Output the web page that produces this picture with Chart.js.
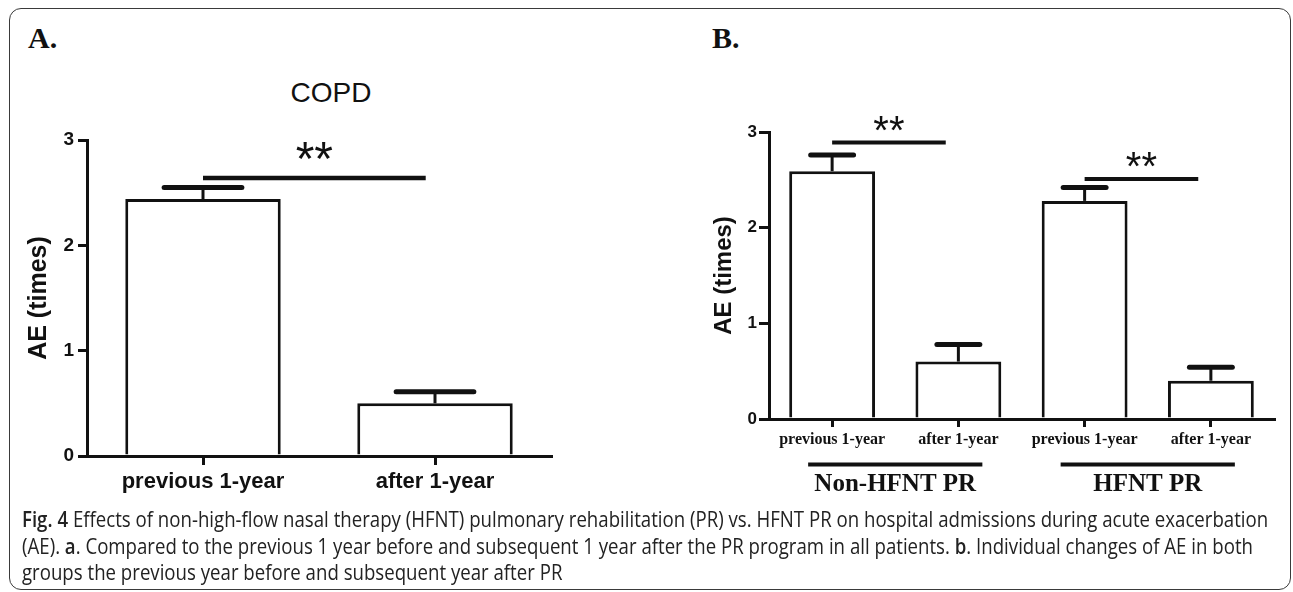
<!DOCTYPE html>
<html>
<head>
<meta charset="utf-8">
<script src="https://cdn.jsdelivr.net/npm/chart.js@4.4.1/dist/chart.umd.min.js"></script>
<style>
body { margin:0; background:#fff; width:1293px; height:592px; overflow:hidden; position:relative; font-family:"Liberation Sans", Arial, sans-serif; }
#frame { position:absolute; left:9px; top:8px; width:1282px; height:582px; box-sizing:border-box; border:1.5px solid #3a3a3a; border-radius:12px; }
.panel { position:absolute; top:0; height:505px; }
#pa { left:0; width:650px; }
#pb { left:650px; width:643px; }
.tag { position:absolute; top:23px; font:bold 30px "Liberation Serif", "Times New Roman", serif; line-height:1; color:#111; }
#copd { position:absolute; left:231px; width:200px; top:79px; text-align:center; font-size:28px; line-height:1; color:#111; }
#caption { position:absolute; left:22px; top:505px; font-family:"Open Sans", sans-serif; font-size:22px; line-height:26.5px; color:#222; }
#caption div { white-space:nowrap; transform-origin:0 0; width:max-content; }
#caption b { font-weight:600; }
</style>
</head>
<body>
<div id="frame"></div>
<div class="tag" style="left:28px">A.</div>
<div class="tag" style="left:712px">B.</div>
<div id="copd">COPD</div>
<div class="panel" id="pa"><canvas id="chartA"></canvas></div>
<div class="panel" id="pb"><canvas id="chartB"></canvas></div>
<div id="caption">
  <div><b>Fig. 4</b> Effects of non-high-flow nasal therapy (HFNT) pulmonary rehabilitation (PR) vs. HFNT PR on hospital admissions during acute exacerbation</div>
  <div>(AE). <b>a</b>. Compared to the previous 1 year before and subsequent 1 year after the PR program in all patients. <b>b</b>. Individual changes of AE in both</div>
  <div>groups the previous year before and subsequent year after PR</div>
</div>
<script>
// panel A: all patients
var catsA = ['previous 1-year', 'after 1-year'];
var aeA = [2.44, 0.50];
var semA = [0.11, 0.11];
var sigA = [{ from: 0, to: 1, y: 2.64, text: '**' }];

// panel B: by group
var catsB = ['previous 1-year', 'after 1-year', 'previous 1-year', 'after 1-year'];
var aeB = [2.59, 0.60, 2.28, 0.40];
var semB = [0.17, 0.18, 0.14, 0.14];
var sigB = [
    { from: 0, to: 1, y: 2.89, text: '**' },
    { from: 2, to: 3, y: 2.51, text: '**' }
];
var groupsB = ['Non-HFNT PR', 'HFNT PR'];
var groupSpans = [[0, 1], [2, 3]];

var yTicks = [0, 1, 2, 3];
var ink = '#111';

function errorBars(errors) {
    return {
        id: 'errorBars',
        afterDatasetsDraw: function(chart) {
            var ctx = chart.ctx, y = chart.scales.y;
            chart.getDatasetMeta(0).data.forEach(function(bar, i) {
                var top = y.getPixelForValue(chart.data.datasets[0].data[i] + errors[i]);
                var half = bar.width * 0.25;
                ctx.save();
                ctx.strokeStyle = ink;
                ctx.lineWidth = 3;
                ctx.beginPath(); ctx.moveTo(bar.x, bar.y); ctx.lineTo(bar.x, top); ctx.stroke();
                ctx.lineWidth = 5;
                ctx.lineCap = 'round';
                ctx.beginPath(); ctx.moveTo(bar.x - half, top); ctx.lineTo(bar.x + half, top); ctx.stroke();
                ctx.restore();
            });
        }
    };
}

function sigMarks(marks, reach, font, off, lw) {
    return {
        id: 'sigMarks',
        afterDatasetsDraw: function(chart) {
            var ctx = chart.ctx, x = chart.scales.x, y = chart.scales.y;
            marks.forEach(function(m) {
                var x0 = x.getPixelForValue(m.from);
                var x1 = x0 + (x.getPixelForValue(m.to) - x0) * reach;
                var py = y.getPixelForValue(m.y);
                ctx.save();
                ctx.strokeStyle = ink;
                ctx.lineWidth = lw;
                ctx.beginPath(); ctx.moveTo(x0, py); ctx.lineTo(x1, py); ctx.stroke();
                ctx.fillStyle = ink;
                ctx.font = font;
                ctx.textAlign = 'center';
                ctx.textBaseline = 'alphabetic';
                ctx.fillText(m.text, (x0 + x1) / 2, py + off);
                ctx.restore();
            });
        }
    };
}

var groupLabels = {
    id: 'groupLabels',
    afterDraw: function(chart) {
        var ctx = chart.ctx, x = chart.scales.x, base = chart.chartArea.bottom;
        var step = x.getPixelForValue(1) - x.getPixelForValue(0);
        groupsB.forEach(function(name, g) {
            var span = groupSpans[g];
            var cx = (x.getPixelForValue(span[0]) + x.getPixelForValue(span[1])) / 2;
            ctx.save();
            ctx.strokeStyle = ink;
            ctx.lineWidth = 4;
            ctx.beginPath();
            ctx.moveTo(cx - step * 0.69, base + 45.5);
            ctx.lineTo(cx + step * 0.69, base + 45.5);
            ctx.stroke();
            ctx.fillStyle = ink;
            ctx.font = 'bold 25px "Liberation Serif", "Times New Roman", serif';
            ctx.textAlign = 'center';
            ctx.fillText(name, cx, base + 72);
            ctx.restore();
        });
    }
};

function barChart(id, cats, values, opts) {
    var ctx = document.getElementById(id).getContext('2d');
    return new Chart(ctx, {
        type: 'bar',
        data: {
            labels: cats,
            datasets: [{
                data: values,
                backgroundColor: '#fff',
                borderColor: ink,
                borderWidth: 3,
                categoryPercentage: 1,
                barPercentage: opts.barPct
            }]
        },
        options: {
            responsive: true,
            maintainAspectRatio: false,
            animation: false,
            layout: { padding: opts.padding },
            scales: {
                x: {
                    z: 1,
                    grid: { drawOnChartArea: false, offset: false, tickLength: opts.xTick, lineWidth: 3, color: ink },
                    border: { color: ink, width: 3 },
                    ticks: { color: ink, padding: opts.xPad, font: opts.xFont },
                    afterFit: function(s) { s.height = opts.xHeight; }
                },
                y: {
                    min: 0,
                    max: 3,
                    afterBuildTicks: function(s) { s.ticks = yTicks.map(function(v) { return { value: v }; }); },
                    grid: { drawOnChartArea: false, tickLength: opts.yTick, lineWidth: 3, color: ink },
                    border: { color: ink, width: 3 },
                    ticks: { color: ink, padding: opts.yPad, font: opts.yFont },
                    title: {
                        display: true,
                        text: 'AE (times)',
                        color: ink,
                        font: { size: opts.titleSize, weight: 'bold', family: '"Liberation Sans", Arial, sans-serif' },
                        padding: { top: opts.titleOff, bottom: 0 }
                    },
                    afterFit: function(s) { s.width = opts.yWidth; }
                }
            },
            plugins: {
                legend: { display: false },
                tooltip: { enabled: false }
            }
        },
        plugins: opts.plugins
    });
}

Chart.defaults.font.family = '"Liberation Sans", Arial, sans-serif';

barChart('chartA', catsA, aeA, {
    barPct: 0.67,
    padding: { left: 0, right: 99, top: 140, bottom: 0 },
    xTick: 9, xPad: 4, xHeight: 49,
    xFont: { size: 22, weight: 'bold' },
    yTick: 9, yPad: 4, yWidth: 87,
    yFont: { size: 19, weight: 'bold' },
    titleSize: 25, titleOff: 24,
    plugins: [errorBars(semA), sigMarks(sigA, 0.96, '48px "Liberation Sans", Arial, sans-serif', -3, 4.5)]
});

barChart('chartB', catsB, aeB, {
    barPct: 0.68,
    padding: { left: 0, right: 19, top: 132, bottom: 56 },
    xTick: 8, xPad: 3, xHeight: 30,
    xFont: { size: 16, weight: 'bold', family: '"Liberation Serif", "Times New Roman", serif' },
    yTick: 10, yPad: 2, yWidth: 119,
    yFont: { size: 17, weight: 'bold' },
    titleSize: 24, titleOff: 60,
    plugins: [errorBars(semB), sigMarks(sigB, 0.9, '40px "Liberation Sans", Arial, sans-serif', 1, 4), groupLabels]
});

// fit the caption to the width of the original text block
var lines = document.querySelectorAll('#caption div');
var k = 1246 / lines[0].offsetWidth;
lines.forEach(function(l) { l.style.transform = 'scaleX(' + k + ')'; });
</script>
</body>
</html>
